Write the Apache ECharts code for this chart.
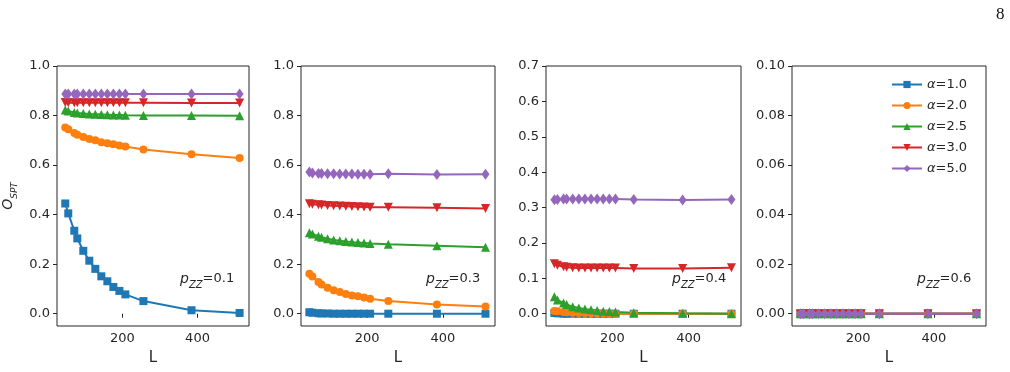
<!DOCTYPE html>
<html>
<head>
<meta charset="utf-8">
<script src="https://cdn.jsdelivr.net/npm/echarts@6/dist/echarts.min.js"></script>
<style>
  html, body { margin: 0; padding: 0; background: #fff; }
  #chart { width: 1010px; height: 372px; }
</style>
</head>
<body>
<div id="chart"></div>
<script>
// system sizes L
var sizes = [48, 56, 72, 80, 96, 112, 128, 144, 160, 176, 192, 208, 256, 384, 512];
var alphaNames = ['α=1.0', 'α=2.0', 'α=2.5', 'α=3.0', 'α=5.0'];
var pzzLabels = ['0.1', '0.3', '0.4', '0.6'];

// pzz = 0.1
var p01_a10 = [0.445, 0.405, 0.335, 0.304, 0.254, 0.214, 0.181, 0.151, 0.131, 0.108, 0.092, 0.078, 0.051, 0.014, 0.003];
var p01_a20 = [0.752, 0.745, 0.730, 0.722, 0.713, 0.705, 0.700, 0.692, 0.688, 0.684, 0.679, 0.675, 0.663, 0.644, 0.629];
var p01_a25 = [0.822, 0.818, 0.812, 0.810, 0.808, 0.806, 0.805, 0.804, 0.803, 0.802, 0.802, 0.801, 0.800, 0.800, 0.799];
var p01_a30 = [0.853, 0.852, 0.852, 0.852, 0.852, 0.852, 0.852, 0.852, 0.852, 0.852, 0.852, 0.852, 0.852, 0.851, 0.851];
var p01_a50 = [0.887, 0.887, 0.887, 0.887, 0.887, 0.887, 0.887, 0.887, 0.887, 0.887, 0.887, 0.887, 0.887, 0.887, 0.887];
// pzz = 0.3
var p03_a10 = [0.006, 0.004, 0.002, 0.001, 0.001, 0.000, 0.000, 0.000, 0.000, 0.000, 0.000, 0.000, 0.000, 0.000, 0.000];
var p03_a20 = [0.161, 0.150, 0.128, 0.118, 0.105, 0.095, 0.088, 0.080, 0.074, 0.070, 0.065, 0.060, 0.051, 0.037, 0.029];
var p03_a25 = [0.327, 0.322, 0.313, 0.309, 0.303, 0.298, 0.295, 0.292, 0.289, 0.287, 0.285, 0.283, 0.280, 0.274, 0.268];
var p03_a30 = [0.444, 0.442, 0.440, 0.439, 0.437, 0.436, 0.435, 0.434, 0.433, 0.432, 0.431, 0.430, 0.430, 0.428, 0.425];
var p03_a50 = [0.572, 0.568, 0.566, 0.566, 0.565, 0.565, 0.564, 0.564, 0.564, 0.563, 0.563, 0.563, 0.565, 0.562, 0.563];
// pzz = 0.4
var p04_a10 = [0.002, 0.001, 0.000, 0.000, 0.000, 0.000, 0.000, 0.000, 0.000, 0.000, 0.000, 0.000, 0.000, 0.000, 0.000];
var p04_a20 = [0.008, 0.007, 0.005, 0.004, 0.003, 0.002, 0.002, 0.001, 0.001, 0.001, 0.000, 0.000, 0.000, 0.000, 0.000];
var p04_a25 = [0.048, 0.039, 0.030, 0.026, 0.020, 0.016, 0.013, 0.011, 0.009, 0.007, 0.006, 0.005, 0.003, 0.001, 0.000];
var p04_a30 = [0.141, 0.137, 0.133, 0.131, 0.130, 0.129, 0.129, 0.129, 0.129, 0.129, 0.129, 0.129, 0.128, 0.128, 0.130];
var p04_a50 = [0.322, 0.323, 0.324, 0.324, 0.324, 0.324, 0.324, 0.324, 0.324, 0.324, 0.324, 0.324, 0.323, 0.321, 0.323];
// pzz = 0.6
var p06_a10 = [0, 0, 0, 0, 0, 0, 0, 0, 0, 0, 0, 0, 0, 0, 0];
var p06_a20 = [0, 0, 0, 0, 0, 0, 0, 0, 0, 0, 0, 0, 0, 0, 0];
var p06_a25 = [0, 0, 0, 0, 0, 0, 0, 0, 0, 0, 0, 0, 0, 0, 0];
var p06_a30 = [0, 0, 0, 0, 0, 0, 0, 0, 0, 0, 0, 0, 0, 0, 0];
var p06_a50 = [0, 0, 0, 0, 0, 0, 0, 0, 0, 0, 0, 0, 0, 0, 0];

// tick labels
var xTicks = [200, 400];
var yTicksA = [0, 0.2, 0.4, 0.6, 0.8, 1.0];
var yTicksB = [0, 0.1, 0.2, 0.3, 0.4, 0.5, 0.6, 0.7];
var yTicksC = [0, 0.02, 0.04, 0.06, 0.08, 0.10];

var panels = [
    [p01_a10, p01_a20, p01_a25, p01_a30, p01_a50],
    [p03_a10, p03_a20, p03_a25, p03_a30, p03_a50],
    [p04_a10, p04_a20, p04_a25, p04_a30, p04_a50],
    [p06_a10, p06_a20, p06_a25, p06_a30, p06_a50]
];

var colors = ['#1f77b4', '#ff7f0e', '#2ca02c', '#d62728', '#9467bd'];
var symbols = ['rect', 'circle', 'triangle', 'triangle', 'diamond'];
var symbolSizes = [8, 8, 9, 9, [8, 11]];
var symbolRotates = [0, 0, 0, 180, 0];

var gridLefts = [56, 301, 546, 792];
var gridWidths = [193, 194, 195, 194];
var yRanges = [[-0.0496, 1.0], [-0.0496, 1.0], [-0.0347, 0.7], [-0.00496, 0.1]];
var yTickSets = [yTicksA, yTicksA, yTicksB, yTicksC];
var yDigits = [1, 1, 1, 2];

var tickFont = 'DejaVu Sans';
var axisCol = '#262626';

var chart = echarts.init(document.getElementById('chart'));

var grids = [], xAxes = [], yAxes = [], series = [], graphics = [];
for (var p = 0; p < 4; p++) {
    grids.push({
        left: gridLefts[p], top: 66, width: gridWidths[p], height: 260,
        show: true, borderColor: axisCol, borderWidth: 1, backgroundColor: 'transparent'
    });
    xAxes.push({
        type: 'value', gridIndex: p, min: 26, max: 537,
        name: 'L', nameLocation: 'middle', nameGap: 25,
        nameTextStyle: { fontFamily: tickFont, fontSize: 15, color: axisCol },
        axisLine: { show: false },
        axisTick: { show: true, length: 4, customValues: xTicks, lineStyle: { color: axisCol } },
        axisLabel: { customValues: xTicks, margin: 6, fontFamily: tickFont, fontSize: 13, color: axisCol },
        splitLine: { show: false }
    });
    (function (digits) {
        yAxes.push({
            type: 'value', gridIndex: p, min: yRanges[p][0], max: yRanges[p][1],
            axisLine: { show: false },
            axisTick: { show: true, length: 4, customValues: yTickSets[p], lineStyle: { color: axisCol } },
            axisLabel: {
                customValues: yTickSets[p], margin: 7, fontFamily: tickFont, fontSize: 13, color: axisCol,
                formatter: function (v) { return v.toFixed(digits); }
            },
            splitLine: { show: false }
        });
    })(yDigits[p]);
    for (var s = 0; s < 5; s++) {
        var vals = panels[p][s];
        var pts = [];
        for (var i = 0; i < sizes.length; i++) pts.push([sizes[i], vals[i]]);
        series.push({
            type: 'line', name: alphaNames[s], xAxisIndex: p, yAxisIndex: p,
            data: pts, symbol: symbols[s], symbolSize: symbolSizes[s], symbolRotate: symbolRotates[s],
            showAllSymbol: true, animation: false,
            lineStyle: { color: colors[s], width: 2 },
            itemStyle: { color: colors[s], borderWidth: 0 }
        });
    }
    // p_ZZ annotation
    graphics.push({
        type: 'text', left: gridLefts[p] + gridWidths[p] - 69, top: 272,
        style: {
            text: '{p|p}{s|ZZ}{n|=' + pzzLabels[p] + '}',
            rich: {
                p: { fontFamily: tickFont, fontSize: 14, fontStyle: 'italic', fill: axisCol, lineHeight: 18, verticalAlign: 'top' },
                s: { fontFamily: tickFont, fontSize: 10, fontStyle: 'italic', fill: axisCol, lineHeight: 10, verticalAlign: 'bottom' },
                n: { fontFamily: tickFont, fontSize: 13, fill: axisCol, lineHeight: 18, verticalAlign: 'top' }
            }
        }
    });
}

// y axis title O_SPT on the first panel
yAxes[0].name = '{o|O}{s|SPT}';
yAxes[0].nameLocation = 'middle';
yAxes[0].nameGap = 38;
yAxes[0].nameRotate = 90;
yAxes[0].nameTextStyle = {
    rich: {
        o: { fontFamily: tickFont, fontSize: 14, fontStyle: 'italic', color: axisCol, lineHeight: 18, verticalAlign: 'top' },
        s: { fontFamily: tickFont, fontSize: 9, fontStyle: 'italic', color: axisCol, lineHeight: 9, verticalAlign: 'bottom' }
    }
};

// page number
graphics.push({
    type: 'text', left: 996, top: 6,
    style: { text: '8', fontFamily: 'Liberation Serif', fontSize: 17, fill: '#111' }
});

option = {
    backgroundColor: '#fff',
    animation: false,
    grid: grids,
    xAxis: xAxes,
    yAxis: yAxes,
    series: series,
    graphic: graphics,
    legend: {
        data: alphaNames,
        orient: 'vertical',
        left: 886, top: 73,
        itemWidth: 30, itemHeight: 9, itemGap: 8,
        formatter: function (name) { return '{i|α}' + name.slice(1); },
        textStyle: {
            fontFamily: tickFont, fontSize: 13, color: axisCol,
            rich: { i: { fontFamily: tickFont, fontSize: 13, fontStyle: 'italic', color: axisCol } }
        }
    }
};
chart.setOption(option);
</script>
</body>
</html>
